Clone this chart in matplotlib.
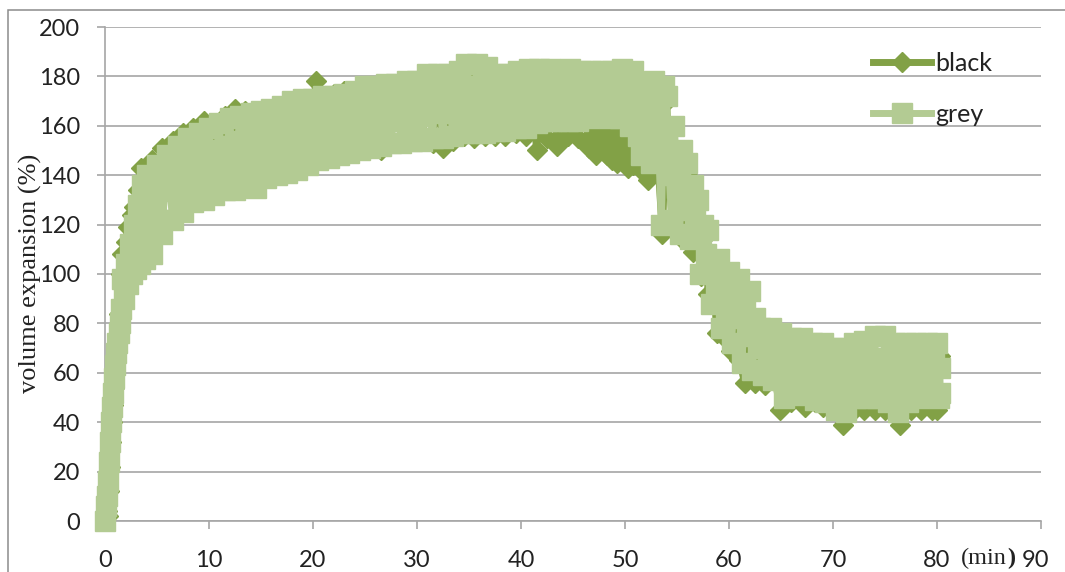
import matplotlib.pyplot as plt
from matplotlib.patches import Rectangle

plt.rcParams['font.family'] = ['Lato', 'DejaVu Sans']

black_time = [0, 0.15, 0.25, 0.35, 0.45, 0.55, 0.65, 0.75, 0.85, 0.95, 1.05, 1.2, 1.35, 1.5, 1.65, 1.8,
              2.0, 2.2, 2.4, 2.6, 2.8, 3.0, 3.2, 3.5, 3.8, 4.0,
              4.5, 5.0, 5.5, 6.0, 6.5, 7.0, 7.5, 8.0, 8.5, 9.0, 9.5, 10.0, 10.5, 11.0, 11.5, 12.0,
              12.5, 13.0, 13.5, 14.0, 14.5, 15.0, 15.5, 16.0, 16.5, 17.0, 17.5, 18.0, 18.5, 19.0,
              19.5, 20.0, 20.25, 20.5, 21.0, 21.5, 22.0, 22.5, 23.0, 23.5, 24.0, 24.5, 25.0, 25.5,
              26.0, 26.5, 27.0, 27.5, 28.0, 28.5, 29.0, 29.5, 30.0, 30.5, 31.0, 31.5, 32.0, 32.5,
              33.0, 33.5, 34.0, 34.5, 35.0, 35.5, 36.0, 36.5, 37.0, 37.5, 38.0, 38.5, 39.0, 39.5,
              40.0, 40.5, 41.0, 41.5, 42.0, 42.5, 43.0, 43.5, 44.0, 44.5, 45.0, 45.5, 46.0, 46.5,
              46.75, 47.0, 47.25, 47.5, 47.75, 48.0, 48.25, 48.5, 48.75, 49.0, 49.25, 49.5, 49.75,
              50.0, 50.25, 50.5, 50.75, 51.0, 51.5, 52.0, 52.25, 52.5, 53.0, 53.25, 53.6, 54.0,
              54.5, 55.0, 55.5, 56.0, 56.5, 57.0, 57.3, 57.7, 58.0, 58.5, 58.8, 59.3, 59.6, 60.2,
              60.6, 61.0, 61.5, 62.0, 62.5, 63.0, 63.5, 64.0, 64.9, 65.5, 66.0, 66.5, 67.3, 67.8,
              68.3, 69.0, 69.5, 70.0, 70.5, 71.0, 71.5, 72.0, 72.5, 73.0, 73.5, 74.0, 74.5, 75.0,
              75.5, 76.0, 76.4, 77.0, 77.5, 78.0, 78.5, 79.0, 79.5, 80.0, 80.3]
black_pct = [0, 4, 2, 12, 22, 32, 40, 47, 54, 60, 66, 74, 84, 100, 108, 100,
             113, 119, 108, 124, 127, 116, 134, 143, 124, 132,
             146, 130, 151, 135, 154, 138, 157, 140, 159, 142, 162, 144, 161, 145, 164, 147,
             167, 146, 166, 148, 166, 150, 166, 151, 167, 152, 168, 153, 169, 154,
             171, 155, 178, 152, 172, 151, 173, 150, 174, 149, 172, 152, 174, 153,
             175, 150, 175, 154, 176, 153, 176, 154, 177, 155, 178, 153, 177, 151,
             178, 154, 180, 156, 180, 155, 180, 156, 180, 156, 179, 156, 180, 157,
             180, 156, 178, 150, 178, 155, 178, 152, 178, 156, 178, 155, 178, 151,
             160, 156, 148, 158, 152, 160, 148, 156, 146, 158, 145, 152, 147,
             156, 143, 150, 144, 176, 142, 176, 138, 145, 176, 140, 116, 170,
             120, 150, 114, 140, 109, 128, 99, 115, 92, 104, 76, 98, 74, 69,
             90, 65, 56, 82, 56, 72, 55, 70, 45, 62, 48, 60, 46, 62,
             48, 46, 60, 47, 62, 39, 58, 45, 62, 45, 60, 45, 62, 45,
             58, 45, 39, 60, 45, 62, 45, 60, 45, 45, 67]

grey_time = [0, 0.1, 0.2, 0.3, 0.4, 0.5, 0.6, 0.7, 0.8, 0.9, 1.0, 1.1, 1.2, 1.3, 1.4, 1.5,
             1.6, 1.8, 2.0, 2.2, 2.4, 2.6, 2.8, 3.0, 3.2, 3.4, 3.6, 3.8,
             4.0, 4.25, 4.5, 4.75, 5.0, 5.25, 5.5, 5.75, 6.0, 6.25, 6.5, 6.75, 7.0, 7.25, 7.5, 7.75,
             8.0, 8.25, 8.5, 8.75, 9.0, 9.25, 9.5, 9.75, 10.0, 10.25, 10.5, 10.75, 11.0, 11.25, 11.5, 11.75,
             12.0, 12.25, 12.5, 12.75, 13.0, 13.25, 13.5, 13.75, 14.0, 14.25, 14.5, 14.75, 15.0, 15.25, 15.5, 15.75,
             16.0, 16.25, 16.5, 16.75, 17.0, 17.25, 17.5, 17.75, 18.0, 18.25, 18.5, 18.75, 19.0, 19.25, 19.5, 19.75,
             20.0, 20.25, 20.5, 20.75, 21.0, 21.25, 21.5, 21.75, 22.0, 22.25, 22.5, 22.75, 23.0, 23.25, 23.5, 23.75,
             24.0, 24.25, 24.5, 24.75, 25.0, 25.25, 25.5, 25.75, 26.0, 26.25, 26.5, 26.75, 27.0, 27.25, 27.5, 27.75,
             28.0, 28.25, 28.5, 28.75, 29.0, 29.25, 29.5, 29.75, 30.0, 30.25, 30.5, 30.75, 31.0, 31.25, 31.5, 31.75,
             32.0, 32.25, 32.5, 32.75, 33.0, 33.25, 33.5, 33.75, 34.0, 34.25, 34.5, 34.75, 35.0, 35.25, 35.5, 35.75,
             36.0, 36.25, 36.5, 36.75, 37.0, 37.25, 37.5, 37.75, 38.0, 38.25, 38.5, 38.75, 39.0, 39.25, 39.5, 39.75,
             40.0, 40.25, 40.5, 40.75, 41.0, 41.25, 41.5, 41.75, 42.0, 42.25, 42.5, 42.75, 43.0, 43.25, 43.5, 43.75,
             44.0, 44.25, 44.5, 44.75, 45.0, 45.25, 45.5, 45.75, 46.0, 46.25, 46.5, 46.75, 47.0, 47.25, 47.5, 47.75,
             48.0, 48.25, 48.5, 48.75, 49.0, 49.25, 49.5, 49.75, 50.0, 50.25, 50.5, 50.75, 51.0, 51.25, 51.5, 51.75,
             52.0, 52.25, 52.5, 52.75, 53.0, 53.25, 53.5, 53.75, 54.0, 54.25, 54.5, 54.75, 55.0, 55.25, 55.5, 55.75,
             56.0, 56.25, 56.5, 56.75, 57.0, 57.25, 57.5, 57.75, 58.0, 58.25, 58.5, 58.75, 59.0, 59.25, 59.5, 59.75,
             60.0, 60.25, 60.5, 60.75, 61.0, 61.25, 61.5, 61.75, 62.0, 62.25, 62.5, 62.75, 63.0, 63.25, 63.5, 63.75,
             64.0, 64.25, 64.5, 64.75, 65.0, 65.25, 65.5, 65.75, 66.0, 66.25, 66.5, 66.75, 67.0, 67.25, 67.5, 67.75,
             68.0, 68.25, 68.5, 68.75, 69.0, 69.25, 69.5, 69.75, 70.0, 70.25, 70.5, 70.75, 71.0, 71.25, 71.5, 71.75,
             72.0, 72.25, 72.5, 72.75, 73.0, 73.25, 73.5, 73.75, 74.0, 74.25, 74.5, 74.75, 75.0, 75.25, 75.5, 75.75,
             76.0, 76.25, 76.5, 76.75, 77.0, 77.25, 77.5, 77.75, 78.0, 78.25, 78.5, 78.75, 79.0, 79.25, 79.5, 79.75,
             80.0, 80.2, 80.25, 80.3]
grey_pct = [0, 6, 10, 16, 24, 32, 40, 46, 52, 58, 63, 68, 72, 76, 80, 86,
            98, 90, 104, 96, 112, 100, 120, 102, 128, 104, 136, 106,
            140, 126, 108, 132, 144, 122, 116, 136, 148, 134, 122, 141, 152, 130, 125, 145,
            155, 138, 129, 147, 157, 136, 130, 149, 159, 141, 132, 150, 161, 139, 134, 152,
            163, 144, 134, 154, 164, 142, 136, 156, 165, 146, 135, 157, 166, 147, 139, 158,
            167, 150, 140, 159, 168, 149, 141, 160, 170, 152, 142, 162, 171, 153, 144, 163,
            171, 156, 146, 164, 172, 155, 147, 165, 172, 158, 148, 166, 173, 157, 149, 166,
            174, 160, 150, 167, 176, 159, 151, 168, 176, 161, 152, 169, 177, 162, 153, 170,
            177, 163, 153, 170, 178, 162, 154, 171, 178, 164, 154, 172, 181, 165, 155, 173,
            181, 166, 155, 174, 181, 165, 156, 174, 182, 167, 157, 185, 176, 164, 157, 185,
            176, 166, 157, 184, 175, 165, 158, 181, 173, 166, 158, 181, 174, 167, 159, 182,
            174, 168, 159, 183, 175, 168, 161, 183, 175, 169, 162, 183, 176, 169, 162, 182,
            176, 170, 162, 183, 176, 170, 162, 182, 176, 170, 163, 182, 176, 170, 164, 182,
            176, 170, 163, 182, 176, 169, 163, 183, 176, 168, 160, 182, 170, 156, 148, 176,
            165, 152, 145, 178, 168, 150, 120, 176, 172, 140, 122, 160, 135, 116, 150, 126,
            145, 114, 136, 124, 130, 100, 120, 108, 118, 88, 104, 96, 106, 78, 92, 86,
            101, 72, 92, 82, 98, 64, 86, 75, 93, 61, 82, 70, 78, 59, 70, 64,
            78, 57, 68, 60, 76, 50, 58, 66, 74, 52, 66, 58, 74, 51, 58, 66,
            72, 49, 64, 56, 72, 48, 56, 64, 70, 45, 62, 53, 70, 44, 53, 62,
            72, 50, 64, 57, 73, 50, 57, 65, 75, 50, 66, 58, 75, 48, 56, 66,
            72, 44, 62, 53, 72, 48, 56, 64, 72, 50, 64, 57, 72, 51, 58, 65,
            72, 50, 62, 52]

x_ticks = [0, 10, 20, 30, 40, 50, 60, 70, 80, 90]
y_ticks = [0, 20, 40, 60, 80, 100, 120, 140, 160, 180, 200]

dark_green = '#82A146'
light_green = '#B3CB93'
grid_grey = '#A6A6A6'
text_col = '#222222'

fig = plt.figure(figsize=(10.65, 5.72), dpi=100)
ax = fig.add_axes([105 / 1065, 51 / 572, 936 / 1065, 494 / 572])

ax.plot(black_time, black_pct, color=dark_green, lw=5, marker='D', ms=10,
        mec=dark_green, mfc=dark_green, clip_on=False, label='black', zorder=3)
ax.plot(grey_time, grey_pct, color=light_green, lw=5, marker='s', ms=15,
        mec=light_green, mfc=light_green, clip_on=False, label='grey', zorder=4)

ax.set_xlim(0, 90)
ax.set_ylim(0, 200)
ax.set_xticks(x_ticks)
ax.set_yticks(y_ticks)
# the last label sits a little left of its tick, so it is drawn separately
ax.set_xticklabels([str(t) for t in x_ticks[:-1]] + [''])
ax.annotate(str(x_ticks[-1]), xy=(x_ticks[-1], 0), xytext=(-4, -21),
            textcoords='offset points', ha='center', va='top',
            fontsize=17, color=text_col, annotation_clip=False)

ax.yaxis.grid(True, color=grid_grey, lw=1.2)
ax.set_axisbelow(True)
for side in ['top', 'right']:
    ax.spines[side].set_visible(False)
for side in ['left', 'bottom']:
    ax.spines[side].set_color(grid_grey)
    ax.spines[side].set_linewidth(1.2)
ax.tick_params(axis='y', length=6, width=1.2, color=grid_grey, pad=12,
               labelsize=17, labelcolor=text_col)
ax.tick_params(axis='x', length=6, width=1.2, color=grid_grey, pad=15,
               labelsize=17, labelcolor=text_col)

fig.text(30 / 1065, 1 - 273 / 572, 'volume expansion (%)', rotation=90,
         ha='center', va='center', family='Liberation Serif', size=19, color=text_col)
fig.text(1007 / 1065, 1 - 564 / 572, '(min', ha='right', va='baseline',
         family='Liberation Serif', size=17.5, color=text_col)
fig.text(1007 / 1065, 1 - 564 / 572, ')', ha='left', va='baseline',
         family='Liberation Serif', size=17.5, weight='bold', color=text_col)

leg = ax.legend(loc='upper left', bbox_to_anchor=(873 / 1065, 1 - 52 / 572),
                bbox_transform=fig.transFigure, frameon=False, fontsize=18,
                handlelength=2.3, handletextpad=0.2, labelspacing=1.1,
                borderaxespad=0, borderpad=0)
for txt in leg.get_texts():
    txt.set_color(text_col)

fig.add_artist(Rectangle((8 / 1065, -0.1), 1.2, 1.1 - 10 / 572, transform=fig.transFigure,
                         fill=False, ec='#8C8C8C', lw=1.1))

fig.savefig('out.png', dpi=100)
